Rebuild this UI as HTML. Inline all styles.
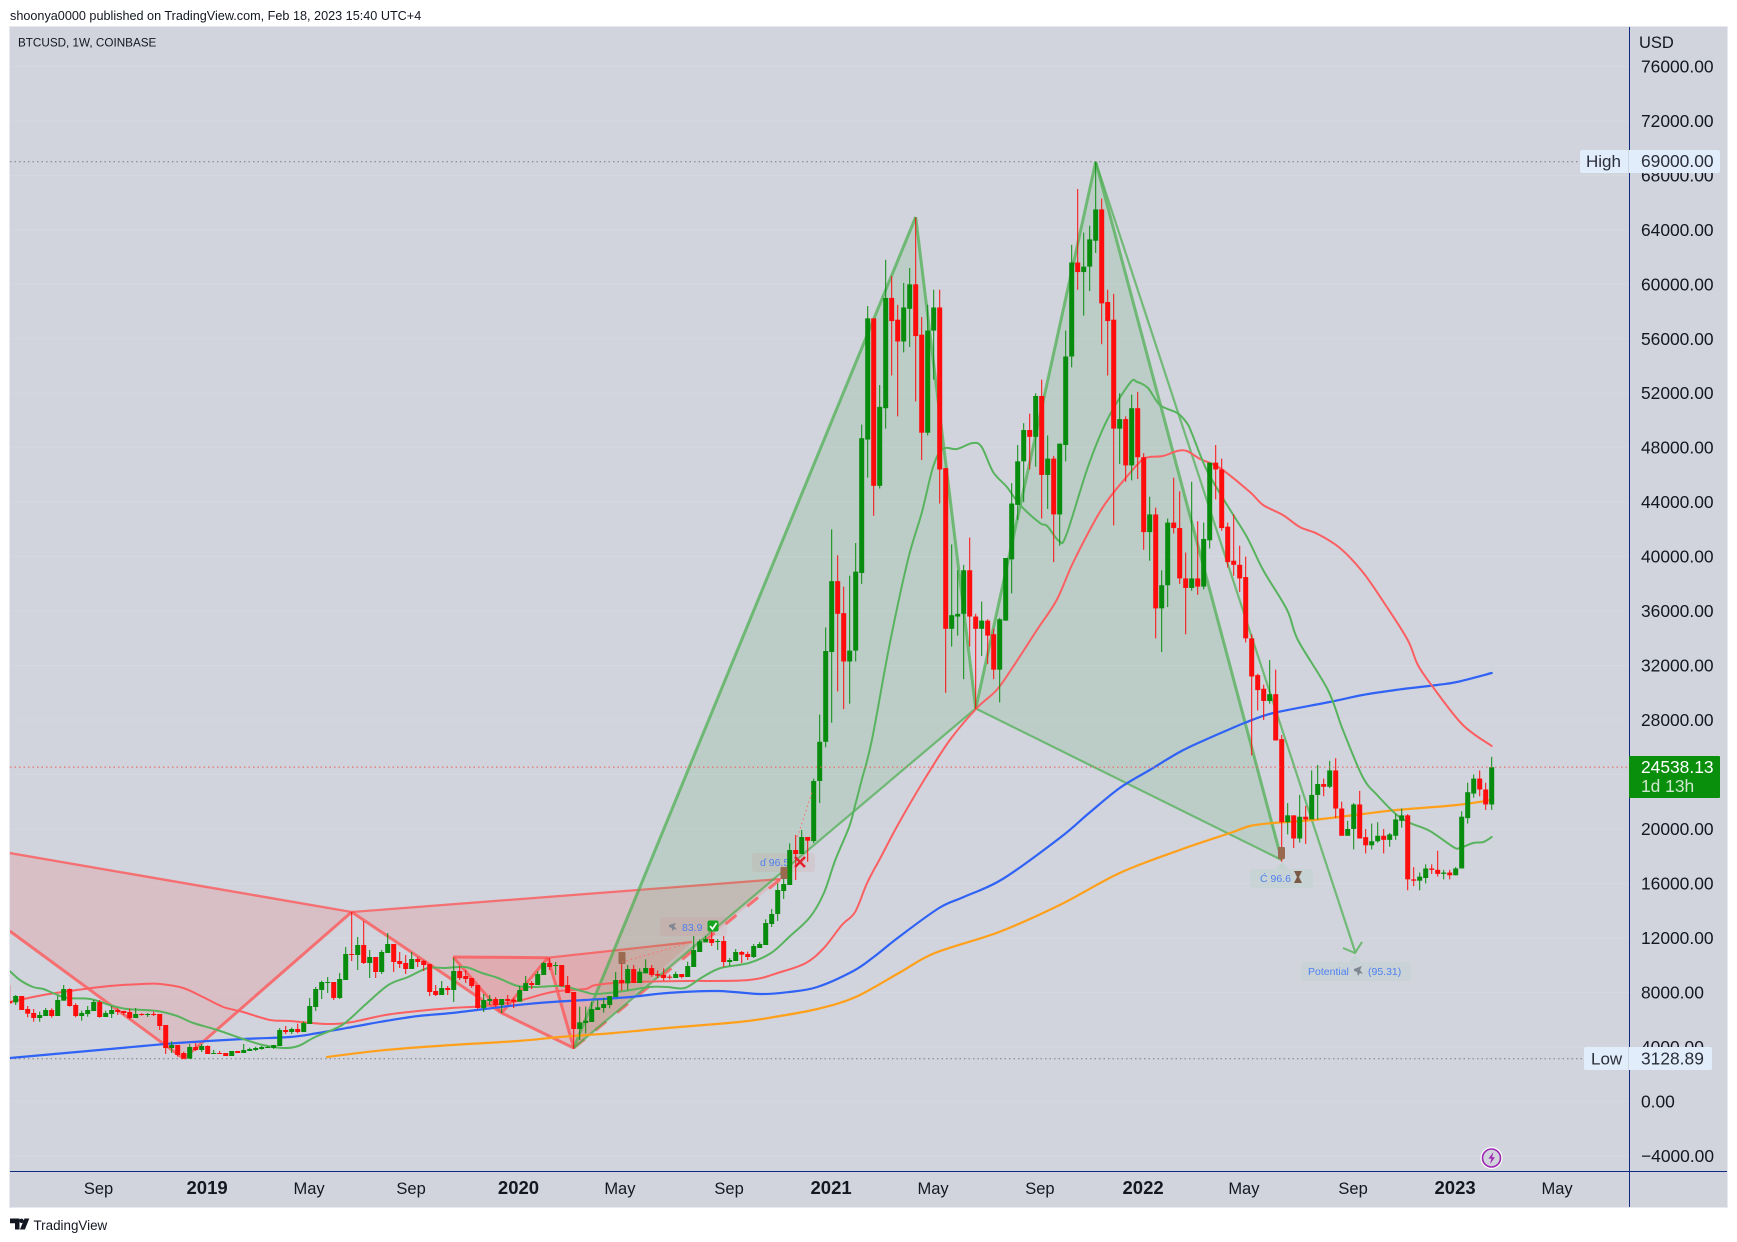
<!DOCTYPE html>
<html lang="en">
<head>
<meta charset="utf-8">
<title>BTCUSD 1W COINBASE chart</title>
<style>
html,body{margin:0;padding:0;background:#fff;width:1737px;height:1242px;overflow:hidden}
svg{position:absolute;left:0;top:0;display:block}
text{font-family:"Liberation Sans","DejaVu Sans",sans-serif}
</style>
</head>
<body>
<svg id="root" width="1737" height="1242" viewBox="0 0 1737 1242" xmlns="http://www.w3.org/2000/svg">
  <defs>
    <clipPath id="plot-clip"><rect x="10" y="27" width="1619.5" height="1144"/></clipPath>
  </defs>
  <text x="10" y="20" font-size="12.65" fill="#131722">shoonya0000 published on TradingView.com, Feb 18, 2023 15:40 UTC+4</text>
  <rect x="9.5" y="26.5" width="1718" height="1181" fill="#d1d4dc" stroke="#e8e9ee"/>
  <g id="grid"></g>
  <g clip-path="url(#plot-clip)">
    <g id="stats-lines"></g>
    <g id="patterns"></g>
    <g id="mas"></g>
    <g id="labels-under">
      <rect x="660" y="917" width="67" height="19" rx="3" fill="#d07878" fill-opacity=".12"/>
      <path d="M669 925l7-2-2 3 3 4-3-1-2 2 0-3-3-1z" fill="#7f8791"/>
      <text x="682" y="931" font-size="10.5" fill="#4f7ff0">83.9</text>
      <rect x="752" y="853" width="63" height="19" rx="3" fill="#d07878" fill-opacity=".12"/>
      <text x="760" y="866" font-size="10.5" fill="#4f7ff0">ɗ 96.5</text>
      <path d="M1276 869l6-7 6 7z" fill="#c4d3d2"/>
      <rect x="1250" y="869" width="63" height="19" rx="3" fill="#c4d3d2" fill-opacity=".7"/>
      <text x="1260" y="882" font-size="10.5" fill="#4f7ff0">Ć 96.6</text>
      <path d="M1294 871h8l-3 6 3 6h-8l3-6z" fill="#7b5a45"/>
      <path d="M1349 962l6-7 6 7z" fill="#c6d3d4"/>
      <rect x="1301" y="962" width="110" height="19" rx="3" fill="#c6d3d4" fill-opacity=".7"/>
      <text x="1308" y="975" font-size="10.5" fill="#4f7ff0">Potential</text>
      <path d="M1354 969l8-3-2 4 3 4-3-1-2 3-1-4-3-1z" fill="#7f8791"/>
      <text x="1368" y="975" font-size="10.5" fill="#4f7ff0">(95.31)</text>
    </g>
    <g id="candles"></g>
    <g>
      <rect x="618.5" y="952" width="7" height="12" rx="1" fill="#9a6a50"/>
      <rect x="780.5" y="867" width="7" height="12" rx="1" fill="#9a6a50"/>
      <rect x="1278" y="847" width="7" height="12" rx="1" fill="#9a6a50"/>
      <line x1="622" y1="962" x2="692" y2="942" stroke="#ff6b6b" stroke-dasharray="1.5 3"/>
      <line x1="797.5" y1="837" x2="812" y2="792" stroke="#ff6b6b" stroke-dasharray="1.5 3"/>
      <path d="M795 857l10 10M805 857l-10 10" stroke="#e5222c" stroke-width="2.6"/>
      <rect x="707.5" y="920.5" width="11" height="11" rx="2" fill="#16a51f"/>
      <path d="M710 926l2.5 3 4-6" stroke="#fff" stroke-width="1.6" fill="none"/>
      <path d="M1343 948l12 5 7-11" stroke="#6cb971" stroke-width="2" fill="none"/>
    </g>
    <line id="last-line" x1="10" x2="1629" stroke="#ef5a5a" stroke-dasharray="1.5 3"/>
  </g>
  <g id="price-axis"></g>
  <g id="time-axis"></g>
  <line x1="1629.5" y1="27" x2="1629.5" y2="1207" stroke="#0f2a80" stroke-width="1"/>
  <line x1="10" y1="1171.5" x2="1727" y2="1171.5" stroke="#0f2a80" stroke-width="1"/>
  <text x="1639" y="48" font-size="16.5" fill="#131722">USD</text>
  <text x="18" y="46.5" font-size="11.7" fill="#131722">BTCUSD, 1W, COINBASE</text>

  <rect x="1580" y="150" width="140" height="23" rx="2" fill="#e2edfb"/>
  <line x1="1628.5" y1="150" x2="1628.5" y2="173" stroke="#cfd6e2"/>
  <text x="1586" y="167" font-size="17" fill="#2a2e39">High</text>
  <text x="1641" y="167" font-size="17.4" fill="#2a2e39">69000.00</text>

  <rect x="1584" y="1047" width="128" height="23" rx="2" fill="#e2edfb"/>
  <line x1="1628.5" y1="1047" x2="1628.5" y2="1070" stroke="#cfd6e2"/>
  <text x="1591" y="1064.5" font-size="17" fill="#2a2e39">Low</text>
  <text x="1641" y="1064.5" font-size="17.4" fill="#2a2e39">3128.89</text>

  <rect x="1629" y="756" width="91" height="42" rx="1" fill="#098f0c"/>
  <text x="1641" y="773" font-size="17.4" fill="#ffffff">24538.13</text>
  <text x="1641" y="792" font-size="17.4" fill="#cfe6cf">1d 13h</text>

  <g>
    <circle cx="1491.5" cy="1158" r="11" fill="#fff"/>
    <circle cx="1491.5" cy="1158" r="9" fill="#d1d4dc" stroke="#9c27b0" stroke-width="1.6"/>
    <path d="M1493.5 1152l-5 6.6h3l-1.5 5.4 5-6.8h-3z" fill="#9c27b0"/>
  </g>

  <g>
    <path d="M10 1218.5h9.5v11h-4.5v-6.2h-5z" fill="#131722"/>
    <circle cx="21.5" cy="1220.8" r="2.2" fill="#131722"/>
    <path d="M24.5 1218.5h4.8l-4.4 11h-5z" fill="#131722"/>
    <text x="33.5" y="1230" font-size="13.4" fill="#131722">TradingView</text>
  </g>

<script>
// ---- candle data, USD, one entry per week (first entry is week -1) ----
const opens = [7340,
7268,7733,6779,6485,6118,6265,6705,6265,7390,8247,
7072,6265,6411,6632,7293,6191,6411,6705,6632,6558,
6118,6411,6338,6411,6411,5604,3914,4135,3547,3130,
3988,3768,4061,3474,3547,3547,3327,3694,3547,3694,
3768,3841,3914,3914,4061,5236,5089,5310,5089,5677,
6925,8174,8712,8761,7586,8908,10818,10744,11479,10157,
10597,9496,10891,11552,10304,10157,9716,10450,10304,10083,
8100,7807,8321,8174,9569,9202,9055,8541,6852,7366,
7513,7072,7513,7464,7317,8100,8688,8541,9275,10157,
9936,10010,8541,8027,5310,5750,5824,6705,6851,7072,
7660,8908,8663,9716,8688,9398,9789,9349,9275,9153,
9055,9349,9128,9863,10964,11674,11919,11699,11772,10230,
10303,10964,10817,10597,11258,11478,13021,13755,15444,15885,
18455,18161,19410,19116,23523,26400,33000,38200,35850,32300,
33100,38800,48600,57500,45200,50900,59000,57400,55800,58200,
60000,56300,49100,56600,58300,46500,34700,35600,35800,39000,
35600,34700,35300,34300,31700,35300,39800,43800,47000,49300,
48800,51800,46000,47200,43100,48200,54700,61600,60900,61300,
63200,65500,58700,57400,49400,50100,46700,50900,47300,41800,
43100,36200,37900,42500,42100,38400,37700,38400,37800,41200,
46900,46400,42200,39700,39400,38500,34000,31300,30300,29400,
29900,26600,20500,21000,19300,20900,20700,22500,23300,23100,
24300,21500,19500,20000,21800,19400,18800,19100,19500,19200,
19500,20600,21000,16300,16200,16400,17100,17000,16700,16800,
16600,17100,20800,22600,23700,22900,21800];
const highs = [8541,
7807,7733,6999,6779,6583,6852,6827,7733,8541,8296,
7195,6656,6999,7440,7440,6656,6999,6827,6632,6803,
6852,6460,6485,6583,6411,5604,4404,4135,3645,4208,
4282,4208,4110,3768,3694,3547,3694,3694,4208,3939,
4012,4061,4061,4135,5383,5530,5408,5701,5873,7586,
8394,8859,9129,8761,9422,11332,13902,12066,13241,11111,
10597,11111,12360,11552,10965,10744,10965,10597,10377,10083,
8541,8835,8467,10524,9936,9643,9055,8541,7880,7807,
7660,7513,7807,7586,8467,9202,8835,9569,10230,10524,
10230,10010,9202,8027,6950,6950,7317,7488,7562,7733,
9496,10132,10010,10010,9765,10426,10010,9593,9765,9300,
9520,9349,10254,12140,11894,12140,12458,11919,12140,10524,
11185,11038,10989,11552,11699,13363,14122,16007,16619,18945,
19557,19924,19410,23700,28400,34800,42000,40100,37800,38600,
41000,49700,58400,57500,52600,61800,60600,58500,60100,61200,
64900,57600,58500,59600,59600,46500,40900,39000,39400,41400,
35800,36700,35400,34700,35500,39900,45400,48200,49800,50500,
52000,53000,48900,47400,48300,56600,62900,67000,63800,64300,
69000,66300,59600,59300,52000,50300,51900,52100,47600,44400,
43600,39000,42800,45800,44800,40300,45500,42600,42500,46900,
48200,47200,42500,43100,40800,40000,34300,31400,30600,32400,
31700,26900,21900,21000,22500,21700,24300,24700,23700,25000,
25200,22000,20600,21900,22800,20000,20400,20500,20000,19700,
21100,21500,21100,17200,16800,17400,17400,18400,17000,17000,
17200,21300,23400,24000,24300,23400,25300];
const lows = [7195,
7072,6705,6167,5848,5848,6265,6142,6265,7390,6950,
6167,5922,6216,6632,6142,6191,6118,6338,6338,6020,
6118,6289,6191,6265,5236,3474,3547,3278,3130,3130,
3694,3621,3474,3474,3474,3327,3327,3547,3547,3694,
3694,3792,3914,3841,4061,4942,4942,4991,5089,5677,
6632,7513,7953,7439,7513,8908,10304,9643,10083,9055,
9055,9349,10891,9496,9790,9349,9716,9863,9569,7733,
7733,7807,7807,7292,8908,8688,8321,6778,6558,7072,
6925,6485,7072,6852,7317,8100,8247,8541,9275,9643,
9275,8394,7953,3841,4502,4991,5824,6705,6509,6827,
7660,8124,8174,8688,8688,9398,9153,9030,8859,8957,
9055,9030,9128,9863,10964,11674,11405,11111,9863,9936,
10303,10156,10377,10524,11258,11478,12800,13241,14857,15885,
16252,18161,17598,18970,21900,26000,27800,30100,28800,29200,
32300,38000,45800,43000,45000,49400,53300,50300,55000,55400,
51400,47100,48900,53000,43900,30000,33400,34200,31000,33400,
28800,32700,32100,31000,29300,35300,37300,42700,44000,46400,
46600,42800,43500,39600,40800,47000,53900,59600,57700,59500,
62300,55600,53300,42300,46800,45500,45600,45700,40500,39700,
34000,33000,36300,41700,38000,34300,37500,37200,37600,40600,
44200,41900,39200,38600,37400,33700,25400,28700,28000,29200,
26500,17600,19600,18600,19000,18900,20700,20700,22400,23000,
20800,19500,19500,18500,19300,18200,18500,19000,18200,18700,
19200,20100,15500,15800,15500,16000,16700,16500,16300,16300,
16600,17100,20400,22300,22400,21400,21400];
const closes = [7195,
7733,6705,6436,6118,6338,6705,6265,7440,8247,6999,
6265,6485,6705,7293,6191,6485,6705,6558,6485,6118,
6411,6338,6411,6338,5530,3914,4135,3400,3130,3988,
3768,4061,3474,3547,3474,3327,3694,3547,3768,3841,
3914,3988,3988,4135,5236,5089,5310,5089,5750,6999,
8247,8761,8761,7586,8982,10818,10769,11479,10157,10597,
9496,10965,11552,10230,10083,9716,10450,10230,10010,8027,
7807,8321,8174,9569,9055,8982,8467,6852,7439,7513,
7072,7513,7366,7317,8174,8688,8541,9349,10157,9863,
10010,8467,7953,5310,5799,5921,6778,6901,7145,7733,
8908,8663,9716,8688,9520,9789,9275,9226,9055,9079,
9349,9128,9936,11111,11748,11919,11625,11772,10230,10377,
10964,10768,10597,11405,11552,13094,13755,15518,15958,18455,
18161,19410,19140,23523,26400,33070,38200,35800,32300,33100,
38900,48700,57500,45200,51000,59000,57300,55800,58300,60000,
56200,49100,56600,58300,46400,34700,35700,35800,39000,35600,
34700,35300,34200,31700,35400,39900,43900,47000,49300,48800,
51800,46000,47200,43100,48300,54700,61600,60900,61300,63300,
65500,58600,57300,49400,50100,46700,50900,47300,41800,43100,
36200,37900,42500,42100,38400,37700,38400,37800,41300,46900,
46400,42100,39600,39400,38400,34000,31200,30200,29400,29900,
26500,20500,21000,19300,20900,20700,22500,23300,23100,24300,
21500,19500,20000,21800,19300,18800,19100,19500,19200,19600,
20700,21000,16300,16200,16500,17100,17000,16700,16800,16600,
17100,20900,22700,23700,22900,21800,24538];
const firstWeek = -1;

// ---- moving averages: week index and USD value ----
const maGreenWeeks = [-1,0.7,2.9,4.6,6.2,8.6,12.4,15.7,18.6,23.6,26.9,29.6,33.6,37.9,41.2,44.6,47.1,49.9,54.4,58.2,62.1,65.4,68.7,71.6,74.9,77.7,80.4,83.7,87,91,94.9,96.7,101.4,105.6,108.6,111.5,114.5,117.5,122.2,125.9,128.9,132.4,134.7,136.6,138.9,140,141,142.7,145.7,148.7,151,152.9,154.5,156.9,159.5,161,162.9,165.2,167.4,170.7,171.9,173.9,175.1,178.7,181.9,185.7,186.9,188.7,190.7,193.6,195.2,196,198.5,201.9,205.2,207.9,211.9,213.7,218.7,221.2,224.5,226.9,230.2,232.4,235.7,239.6,240.7,242.9,244.6,246];
const maGreenValues = [9569,8908,8394,8247,7954,7586,7513,7072,6779,6632,6264,5750,5236,4575,4135,3914,4061,4722,5603,7072,8541,9129,9790,9790,9863,9422,9055,8468,8394,8468,8027,7880,8100,8394,8394,8321,9129,9790,10157,10891,12066,13535,15298,17721,20145,21907,23596,26534,33658,39753,43205,46583,47905,47905,48346,48052,46216,45114,43792,42470,42250,41148,41589,46583,50035,52752,52825,52385,51136,50549,49814,49080,46363,43792,41442,39019,36081,33878,30206,27268,23816,22495,21026,20438,19851,18676,18602,18970,19043,19410];
const maRedWeeks = [-1,4.6,10.2,15.7,21.2,24.1,27.9,31.2,34.6,37.9,42.4,45.7,52,56.1,61.6,67.1,72.7,78.2,83.7,89.4,94.9,96.7,102.5,111.5,122.2,127.5,131.7,134.7,137.7,139.9,141.9,144.2,147.2,151.4,155.7,160.2,163.5,166.2,170.2,173.5,176.2,180.2,182.4,185.7,187.7,189,191.2,193.6,195.2,197.4,200.7,205.7,207.9,211.2,214,217,220.7,224.5,228.2,232,233.7,236.2,241.2,246];
const maRedValues = [7293,7807,8174,8468,8615,8615,8321,7660,6925,6558,5971,5897,5677,5824,6338,6632,6852,6999,7366,8027,8247,8541,8761,8835,8908,9496,10157,11258,12947,13902,16032,17941,20438,23596,26534,28884,30206,31895,34612,36815,39533,42911,44379,46142,47097,47318,47391,47758,47758,47171,46510,44747,43792,43058,42177,41662,40634,38872,36522,33878,32042,30426,27636,26093];
const maBlueWeeks = [-1,10.2,21.2,26.9,37.9,45.7,50.4,56.1,61.6,67.1,72.7,78.2,83.7,89.4,94.9,102.5,108.6,116.9,124,128.9,133.6,139.6,143,147.2,153.9,158,164.5,174,178.9,184,189,194,198.2,202.4,205.2,209.6,219,224.5,231.2,236.9,240.2,246];
const maBlueValues = [3180,3621,4061,4282,4575,4722,5016,5457,5897,6264,6485,6779,7072,7293,7440,7660,7954,8100,7880,8027,8394,9569,10597,12066,14196,15004,16326,19337,21173,23009,24331,25653,26534,27342,27856,28517,29325,29839,30279,30573,30794,31454];
const maOrangeWeeks = [51.9,61.6,72.7,83.7,90.7,99.7,108.6,120.6,126.4,133.6,140,147.2,153.2,163.9,174,184,194,202.4,205.7,209.6,216.2,224.5,230.2,240.2,246];
const maOrangeValues = [3253,3767,4135,4428,4722,5016,5383,5824,6191,6779,7660,9422,10891,12433,14416,16766,18455,19704,20218,20438,20659,21099,21393,21760,22128];

// ---- axis tick data ----
const priceTicks = [76000,72000,68000,64000,60000,56000,52000,48000,44000,40000,36000,32000,28000,24000,20000,16000,12000,8000,4000,0,-4000];
const timeTickLabels = ["Sep","2019","May","Sep","2020","May","Sep","2021","May","Sep","2022","May","Sep","2023","May"];
const timeTickWeeks = [13.8,31.9,48.9,65.9,83.8,100.7,118.9,135.9,152.9,170.7,187.9,204.7,222.9,239.9,256.9];

// ---- key statistics ----
const highPrice = 69000;
const lowPrice = 3128.89;
const lastPrice = 24538.13;

// ---- harmonic pattern pivots: [week, USD] ----
const pivotLeftTop = [-1,18235];
const pivotLeftLow = [-1,12507];
const pivotBottomA = [28,3130];
const pivotPeakA = [56,13902];
const pivotEndA = [127.5,16326];
const pivotMidB = [81,6485];
const pivotBottomD = [93,3914];
const pivotSmallX = [72.9,10597];
const pivotSmallA = [88.7,10546];
const pivotSmallEnd = [112.7,11699];
const pivotGreenTop1 = [150,64943];
const pivotGreenMid = [160,28847];
const pivotGreenTop2 = [180,69000];
const pivotGreenEnd = [211,17721];
const pivotPotential = [223.3,10891];

// ---- axis functions ----
function xOf(week){ return 15.7 + 6 * week; }
function yOf(usd){ return 1101.3 - usd * 0.0136165; }
const SVGNS = 'http://www.w3.org/2000/svg';
function pts(list){ return list.map(function(p){ return xOf(p[0]).toFixed(1) + ',' + yOf(p[1]).toFixed(1); }).join(' '); }
function mk(parent, tag, attrs){
  const el = document.createElementNS(SVGNS, tag);
  for (const k in attrs) el.setAttribute(k, attrs[k]);
  parent.appendChild(el);
  return el;
}
// smooth curve through the scaled points (Catmull-Rom rendered as cubic Beziers)
function smoothPath(weeks, values){
  const P = weeks.map(function(w, i){ return [xOf(w), yOf(values[i])]; });
  let d = 'M' + P[0][0].toFixed(1) + ' ' + P[0][1].toFixed(1);
  for (let i = 0; i < P.length - 1; i++){
    const p0 = P[Math.max(i-1,0)], p1 = P[i], p2 = P[i+1], p3 = P[Math.min(i+2,P.length-1)];
    const c1x = p1[0] + (p2[0]-p0[0])/6, c1y = p1[1] + (p2[1]-p0[1])/6;
    const c2x = p2[0] - (p3[0]-p1[0])/6, c2y = p2[1] - (p3[1]-p1[1])/6;
    d += 'C' + c1x.toFixed(1) + ' ' + c1y.toFixed(1) + ' ' + c2x.toFixed(1) + ' ' + c2y.toFixed(1) + ' ' + p2[0].toFixed(1) + ' ' + p2[1].toFixed(1);
  }
  return d;
}

// gridlines
const gridG = document.getElementById('grid');
priceTicks.forEach(function(p){
  const el = mk(gridG, 'line', {x1:10, x2:1629, y1:yOf(p), y2:yOf(p), stroke:'#d5d8e0', 'stroke-width':1});
  
  
});

// high / low dotted lines
const statG = document.getElementById('stats-lines');
const highLine = mk(statG, 'line', {x1:10, x2:1580, y1:yOf(highPrice), y2:yOf(highPrice), stroke:'#787b86', 'stroke-dasharray':'1.5 3'});


const lowLine = mk(statG, 'line', {x1:10, x2:1584, y1:yOf(lowPrice), y2:yOf(lowPrice), stroke:'#787b86', 'stroke-dasharray':'1.5 3'});



// last price line
const lastLine = document.getElementById('last-line');
lastLine.setAttribute('y1', yOf(lastPrice));
lastLine.setAttribute('y2', yOf(lastPrice));

// patterns
const patG = document.getElementById('patterns');
const RED_FILL = 'rgba(255,82,82,0.17)';
const GREEN_FILL = 'rgba(76,165,90,0.15)';
const RED_LINE = 'rgba(255,82,82,0.75)';
const GREEN_LINE = 'rgba(76,175,80,0.72)';
function fillPoly(list, color, name){
  const el = mk(patG, 'polygon', {points:pts(list), fill:color, stroke:'none'});
  
  
}
function seg(a, b, color, width, name, dash){
  const attrs = {x1:xOf(a[0]), y1:yOf(a[1]), x2:xOf(b[0]), y2:yOf(b[1]), stroke:color, 'stroke-width':width};
  if (dash) attrs['stroke-dasharray'] = dash;
  const el = mk(patG, 'line', attrs);
  
  
}
fillPoly([pivotLeftTop,pivotPeakA,pivotBottomA,pivotLeftLow], RED_FILL, 'red-pattern-left-fill');
fillPoly([pivotPeakA,pivotEndA,pivotBottomD,pivotMidB], RED_FILL, 'red-pattern-right-fill');
fillPoly([pivotSmallX,pivotSmallA,pivotMidB], RED_FILL, 'red-small-pattern-fill');
fillPoly([pivotSmallA,pivotSmallEnd,pivotBottomD], RED_FILL, 'red-small-pattern-right-fill');
seg(pivotLeftTop,pivotPeakA,RED_LINE,2.4,'red-pattern-top-left');
seg(pivotLeftLow,pivotBottomA,RED_LINE,3,'red-pattern-leg-1');
seg(pivotBottomA,pivotPeakA,RED_LINE,3,'red-pattern-leg-2');
seg(pivotPeakA,pivotEndA,RED_LINE,2.2,'red-pattern-top-right');
seg(pivotPeakA,pivotMidB,RED_LINE,3,'red-pattern-leg-3');
seg(pivotMidB,pivotBottomD,RED_LINE,3,'red-pattern-leg-4');
seg(pivotBottomD,pivotEndA,RED_LINE,3,'red-pattern-dashed-leg','14 14');
seg(pivotSmallX,pivotSmallA,RED_LINE,3,'red-small-top');
seg(pivotSmallX,pivotMidB,RED_LINE,3,'red-small-leg-1');
seg(pivotMidB,pivotSmallA,RED_LINE,3,'red-small-leg-2');
seg(pivotSmallA,pivotBottomD,RED_LINE,3,'red-small-leg-3');
seg(pivotSmallA,pivotSmallEnd,RED_LINE,2.2,'red-small-top-right');

fillPoly([pivotBottomD,pivotGreenTop1,pivotGreenMid], GREEN_FILL, 'green-pattern-1-fill');
fillPoly([pivotGreenMid,pivotGreenTop2,pivotGreenEnd], GREEN_FILL, 'green-pattern-2-fill');
seg(pivotBottomD,pivotGreenTop1,GREEN_LINE,3,'green-leg-1');
seg(pivotGreenTop1,pivotGreenMid,GREEN_LINE,3,'green-leg-2');
seg(pivotGreenMid,pivotBottomD,GREEN_LINE,2.2,'green-base-1');
seg(pivotGreenMid,pivotGreenTop2,GREEN_LINE,3,'green-leg-3');
seg(pivotGreenTop2,pivotGreenEnd,GREEN_LINE,3,'green-leg-4');
seg(pivotGreenEnd,pivotGreenMid,GREEN_LINE,2.2,'green-base-2');
seg(pivotGreenTop2,pivotPotential,GREEN_LINE,2.2,'green-potential-line');

// moving averages
const maG = document.getElementById('mas');
function maLine(weeks, values, color, width, name){
  const el = mk(maG, 'path', {d:smoothPath(weeks, values), fill:'none', stroke:color, 'stroke-width':width, 'stroke-linejoin':'round', 'stroke-linecap':'round'});
  
  
}
maLine(maOrangeWeeks, maOrangeValues, '#ff9f1a', 2.2, 'ma-orange');
maLine(maBlueWeeks, maBlueValues, '#2f62f5', 2.2, 'ma-blue');
maLine(maRedWeeks, maRedValues, '#fb5f62', 2, 'ma-red');
maLine(maGreenWeeks, maGreenValues, '#58b35e', 2, 'ma-green');

// candles
const candleG = document.getElementById('candles');
opens.forEach(function(o, k){
  const c = closes[k], h = highs[k], l = lows[k];
  const x = xOf(firstWeek + k);
  const col = c >= o ? '#088c0e' : '#ff0d0d';
  const wick = mk(candleG, 'rect', {x:x-0.5, y:yOf(h), width:1, height:Math.max(yOf(l)-yOf(h),1), fill:col});
  
  
  const top = yOf(Math.max(o,c));
  const body = mk(candleG, 'rect', {x:x-2.5, y:top, width:5, height:Math.max(yOf(Math.min(o,c))-top,1), fill:col});
  
  
});

// price axis labels
const priceG = document.getElementById('price-axis');
priceTicks.forEach(function(p){
  const label = (p < 0 ? '\u2212' : '') + Math.abs(p).toFixed(2);
  const el = mk(priceG, 'text', {x:1641, y:yOf(p)+6, 'font-size':17.4, fill:'#131722'});
  el.textContent = label;
  
  
});

// time axis labels
const timeG = document.getElementById('time-axis');
timeTickLabels.forEach(function(t, i){
  const isYear = /^\d+$/.test(t);
  const el = mk(timeG, 'text', {x:xOf(timeTickWeeks[i]), y:1194, 'font-size':isYear?18.5:16.5, 'font-weight':isYear?'bold':'normal', 'text-anchor':'middle', fill:'#131722'});
  el.textContent = t;
  
  
});
</script>
</svg>
</body>
</html>
